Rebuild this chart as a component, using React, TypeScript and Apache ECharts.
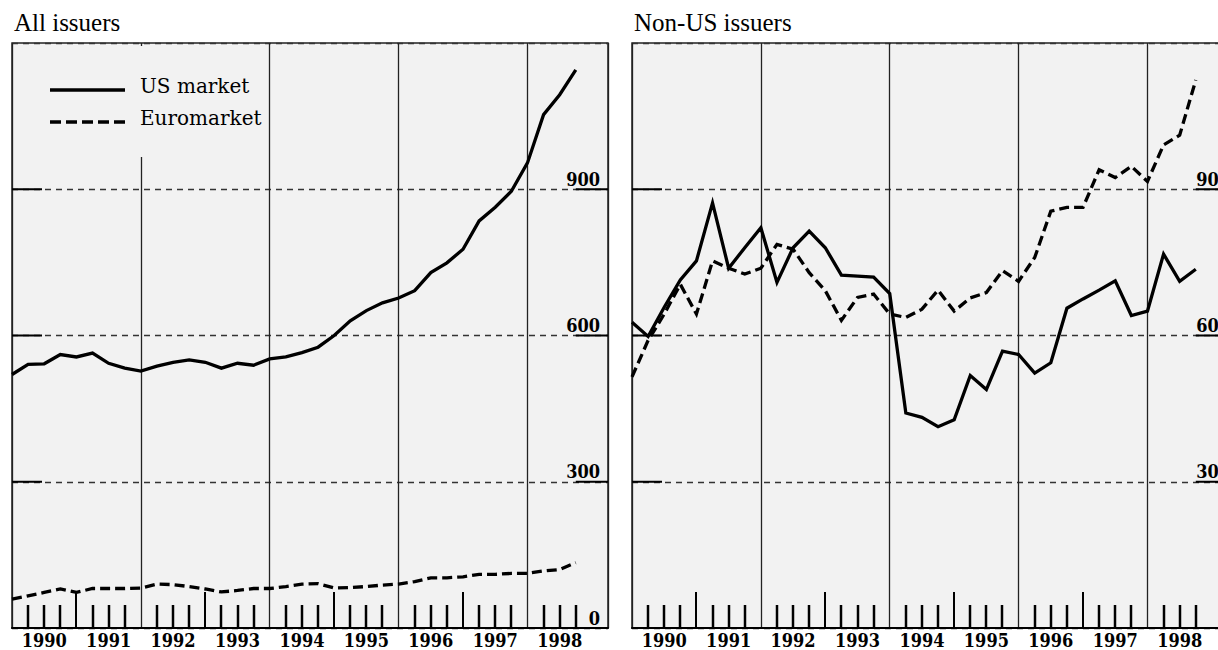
import React, { useEffect, useRef } from "react";
import * as echarts from "echarts";

// Quarterly observations, 1990 Q1 .. 1998 Q4
const YEARS = ["1990", "1991", "1992", "1993", "1994", "1995", "1996", "1997", "1998"];
const Y_LABELS = [0, 300, 600, 900];
const Y_GRID = [300, 600, 900];

const allUS = [520, 541, 542, 561, 556, 564, 543, 533, 527, 537, 545, 550, 545, 533, 543, 539, 552, 556, 565, 576,
  600, 630, 651, 667, 677, 692, 729, 749, 777, 835, 863, 896, 954, 1053, 1094, 1145];
const allEuro = [59, 66, 73, 80, 73, 81, 81, 81, 82, 90, 89, 85, 80, 74, 77, 81, 81, 85, 90, 91,
  82, 83, 85, 88, 90, 95, 103, 103, 105, 110, 110, 112, 112, 117, 120, 134];
const nonUS_US = [627, 598, 658, 714, 753, 872, 738, 780, 821, 709, 780, 814, 780, 724, 722, 720, 686, 441, 432, 413,
  427, 518, 489, 568, 561, 523, 544, 656, 675, 693, 712, 641, 650, 767, 711, 736];
const nonUS_Euro = [515, 590, 644, 705, 644, 753, 738, 726, 738, 787, 777, 729, 692, 631, 678, 685, 644, 637, 654, 693,
  650, 677, 688, 733, 711, 760, 855, 863, 863, 940, 924, 947, 916, 991, 1011, 1124];

const LABEL_FONT = "'DejaVu Serif Condensed', 'DejaVu Serif', serif";
const LEGEND_FONT = "'DejaVu Serif', serif";
const TITLE_FONT = "'Liberation Serif', serif";

const N_Q = allUS.length; // 36 quarters
const quarterTicks: number[] = [];
for (let k = 1; k < N_Q; k++) if (k % 8 !== 0) quarterTicks.push(k);
const labelPos = YEARS.map((_, i) => i * 4 + 2);

const PX_PER_Q = 596 / 37;
const PANELS = [
  { left: 12, width: 596 },
  { left: 632, width: 606 },
];
const xMaxOf = (w: number) => w / PX_PER_Q;

function xAxesFor(g: number) {
  const base = { type: "value", gridIndex: g, min: 0, max: xMaxOf(PANELS[g].width) };
  return [
    {
      ...base,
      axisLine: { show: true, onZero: false, lineStyle: { color: "#000", width: 2 } },
      axisTick: { show: false },
      axisLabel: {
        show: true,
        customValues: labelPos,
        margin: 12,
        verticalAlign: "middle",
        lineHeight: 18,
        formatter: (v: number) => YEARS[Math.round((v - 2) / 4)] ?? "",
        fontFamily: LABEL_FONT,
        fontWeight: "bold",
        fontSize: 18,
        color: "#000",
      },
      splitLine: { show: false },
    },
    {
      ...base,
      interval: 8,
      axisLine: { show: false },
      axisTick: { show: false },
      axisLabel: { show: false },
      splitLine: { show: true, lineStyle: { color: "#222", width: 1.3 } },
    },
  ];
}

function yAxesFor(g: number) {
  const base = { type: "value", gridIndex: g, min: 0, max: 1200, interval: 300 };
  return [
    {
      ...base,
      position: "left",
      axisLine: { show: false },
      axisTick: { show: false },
      axisLabel: { show: false },
      splitLine: { show: true, lineStyle: { color: "#333", width: 1.3, type: [6, 5] } },
    },
    {
      ...base,
      position: "right",
      axisLine: { show: false },
      axisTick: { show: false },
      axisLabel: {
        show: true,
        inside: true,
        customValues: Y_LABELS,
        margin: 8,
        verticalAlign: "bottom",
        lineHeight: 20,
        fontFamily: LABEL_FONT,
        fontWeight: "bold",
        fontSize: 18,
        color: "#000",
      },
      splitLine: { show: false },
    },
  ];
}

function lineSeries(values: number[], xi: number, yi: number, dashed: boolean) {
  return {
    type: "line",
    xAxisIndex: xi,
    yAxisIndex: yi,
    data: values.map((v, i) => [i, v]),
    symbol: "none",
    silent: true,
    z: 5,
    lineStyle: {
      color: "#000",
      width: 3.3,
      type: dashed ? [10, 5] : "solid",
      join: "miter",
      cap: "butt",
    },
  };
}

// quarter tick marks along the time axis
function tickSeries(xi: number, yi: number) {
  return {
    type: "custom",
    xAxisIndex: xi,
    yAxisIndex: yi,
    silent: true,
    z: 3,
    data: quarterTicks.map((k) => [k, 0]),
    renderItem: (_p: any, api: any) => {
      const k = api.value(0);
      const pt = api.coord([k, 0]);
      const tall = k % 4 === 0;
      const x = Math.round(pt[0]);
      return {
        type: "line",
        shape: { x1: x, y1: pt[1], x2: x, y2: pt[1] - (tall ? 36 : 23) },
        style: { stroke: "#000", lineWidth: tall ? 2 : 2.5, opacity: 1 },
      };
    },
  };
}

// solid ends of the horizontal grid lines
function gridEndSeries(xi: number, yi: number, xMax: number) {
  return {
    type: "custom",
    xAxisIndex: xi,
    yAxisIndex: yi,
    silent: true,
    z: 3,
    data: Y_GRID.map((v) => [0, v]),
    renderItem: (_p: any, api: any) => {
      const v = api.value(1);
      const a = api.coord([0, v]);
      const b = api.coord([N_Q - 1, v]);
      const c = api.coord([xMax, v]);
      const st = { stroke: "#000", lineWidth: 2, opacity: 1 };
      return {
        type: "group",
        children: [
          { type: "line", shape: { x1: a[0], y1: a[1], x2: a[0] + 30, y2: a[1] }, style: st },
          { type: "line", shape: { x1: b[0], y1: b[1], x2: c[0], y2: c[1] }, style: st },
        ],
      };
    },
  };
}

export default function App() {
  const ref = useRef<HTMLDivElement>(null);
  useEffect(() => {
    if (!ref.current) return;
    const chart = echarts.init(ref.current, null, { renderer: "svg" });
    const gridCommon = {
      top: 43,
      height: 585,
      show: true,
      backgroundColor: "#f2f2f2",
      borderColor: "#222",
      borderWidth: 1.5,
      containLabel: false,
      outerBoundsMode: "none",
    };
    chart.setOption({
      animation: false,
      backgroundColor: "#fff",
      title: [
        { text: "All issuers", left: 9, top: 5, textStyle: { fontFamily: TITLE_FONT, fontSize: 25, fontWeight: "normal", color: "#000" } },
        { text: "Non-US issuers", left: 629, top: 5, textStyle: { fontFamily: TITLE_FONT, fontSize: 25, fontWeight: "normal", color: "#000" } },
      ],
      grid: PANELS.map((p) => ({ ...gridCommon, left: p.left, width: p.width })),
      xAxis: [...xAxesFor(0), ...xAxesFor(1)],
      yAxis: [...yAxesFor(0), ...yAxesFor(1)],
      series: [
        tickSeries(0, 0),
        tickSeries(2, 2),
        gridEndSeries(0, 0, xMaxOf(PANELS[0].width)),
        gridEndSeries(2, 2, xMaxOf(PANELS[1].width)),
        { name: "US market", ...lineSeries(allUS, 0, 0, false) },
        { name: "Euromarket", ...lineSeries(allEuro, 0, 0, true) },
        { name: "US market", ...lineSeries(nonUS_US, 2, 2, false) },
        { name: "Euromarket", ...lineSeries(nonUS_Euro, 2, 2, true) },
      ],
      graphic: [
        { type: "rect", z: 50, shape: { x: 14, y: 46, width: 252, height: 111 }, style: { fill: "#f2f2f2" } },
        { type: "line", z: 51, shape: { x1: 50, y1: 90, x2: 125, y2: 90 }, style: { stroke: "#000", lineWidth: 3.5 } },
        { type: "line", z: 51, shape: { x1: 50, y1: 122, x2: 125, y2: 122 }, style: { stroke: "#000", lineWidth: 3.5, lineDash: [11, 5] } },
        { type: "text", z: 51, x: 140, y: 86, style: { text: "US market", fontFamily: LEGEND_FONT, fontSize: 20, fill: "#000", verticalAlign: "middle" } },
        { type: "text", z: 51, x: 140, y: 118, style: { text: "Euromarket", fontFamily: LEGEND_FONT, fontSize: 20, fill: "#000", verticalAlign: "middle" } },
      ],
    });
    return () => chart.dispose();
  }, []);
  return (
    <div
      ref={ref}
      style={{ position: "absolute", left: 0, top: 0, width: 1218, height: 650, overflow: "hidden" }}
    />
  );
}
